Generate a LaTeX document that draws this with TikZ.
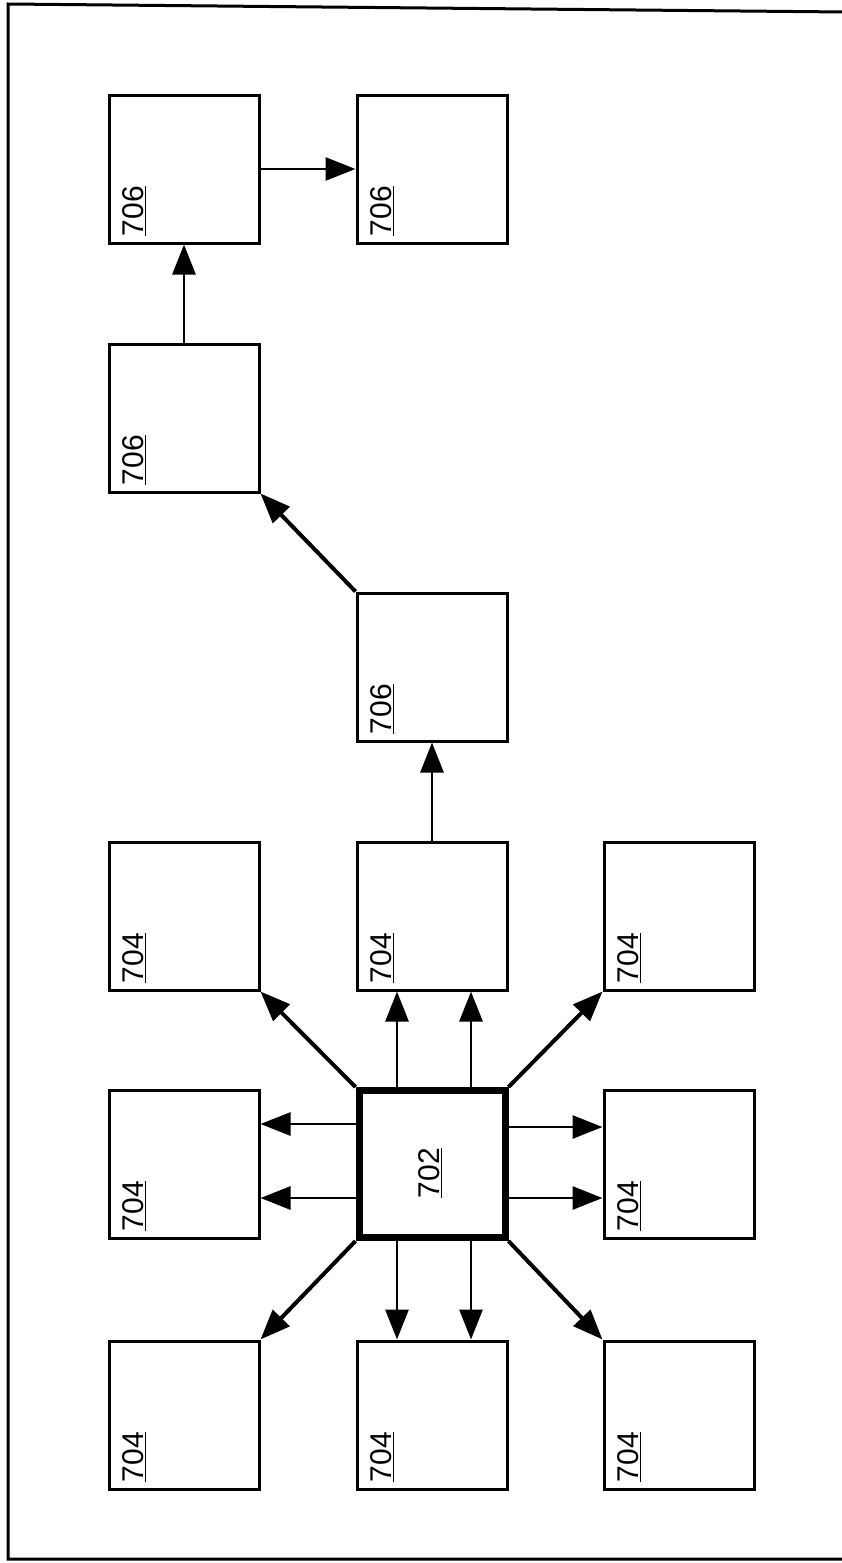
\documentclass[tikz,border=0pt]{standalone}
\usepackage{fontspec}
\setmainfont{Liberation Sans}
\usetikzlibrary{arrows.meta}
\newcommand{\ulbl}[1]{\underline{#1}}
\begin{document}
\begin{tikzpicture}[x=1pt,y=-1pt,
  box/.style={draw,line width=3pt,minimum width=150pt,minimum height=148pt,inner sep=0pt},
  hub/.style={draw,line width=7pt,minimum width=146pt,minimum height=147pt,inner sep=0pt},
  lbl/.style={rotate=90,anchor=north west,inner sep=0pt,font=\fontsize{30}{30}\selectfont},
  arr/.style={line width=2.8pt,-{Triangle[length=30pt,width=23pt]}},
  darr/.style={line width=4pt,-{Triangle[length=30pt,width=23pt]}}
]
\useasboundingbox (0,0) rectangle (841,1563);
\draw[line width=3pt] (845,12) -- (8,4) -- (8,1559) -- (845,1559);

\node[box] (a1) at (184,169) {};
\node[box] (a2) at (432,169) {};
\node[box] (b1) at (184,418) {};
\node[box] (c2) at (432,667) {};
\node[box] (d1) at (184,916) {};
\node[box] (d2) at (432,916) {};
\node[box] (d3) at (679,916) {};
\node[box] (e1) at (184,1164) {};
\node[hub] (hub) at (432,1164) {};
\node[box] (e3) at (679,1164) {};
\node[box] (f1) at (184,1415) {};
\node[box] (f2) at (432,1415) {};
\node[box] (f3) at (679,1415) {};

\foreach \n/\t in {a1/706,a2/706,b1/706,c2/706,d1/704,d2/704,d3/704,e1/704,e3/704,f1/704,f2/704,f3/704}
  \node[lbl] (l\n) at ([xshift=15pt,yshift=8pt]\n.south west) {\ulbl{\t}};
\node[rotate=90,inner sep=0pt,font=\fontsize{30}{30}\selectfont] (lhub) at ([xshift=-2pt,yshift=-9pt]hub.center) {\ulbl{702}};

\draw[arr] (a1.east) -- (a2.west);
\draw[arr] (b1.north) -- (a1.south);
\draw[darr] (c2.north west) -- (b1.south east);
\draw[arr] (d2.north) -- (c2.south);

\draw[darr] (hub.north west) -- (d1.south east);
\draw[arr] ([xshift=-35pt]hub.north) -- ([xshift=-35pt]d2.south);
\draw[arr] ([xshift=39pt]hub.north) -- ([xshift=39pt]d2.south);
\draw[darr] (hub.north east) -- (d3.south west);

\draw[arr] ([yshift=40pt]hub.west) -- ([yshift=40pt]e1.east);
\draw[arr] ([yshift=-34pt]hub.west) -- ([yshift=-34pt]e1.east);
\draw[arr] ([yshift=37pt]hub.east) -- ([yshift=37pt]e3.west);
\draw[arr] ([yshift=-34pt]hub.east) -- ([yshift=-34pt]e3.west);

\draw[darr] (hub.south west) -- (f1.north east);
\draw[arr] ([xshift=-35pt]hub.south) -- ([xshift=-35pt]f2.north);
\draw[arr] ([xshift=39pt]hub.south) -- ([xshift=39pt]f2.north);
\draw[darr] (hub.south east) -- (f3.north west);
\end{tikzpicture}
\end{document}
